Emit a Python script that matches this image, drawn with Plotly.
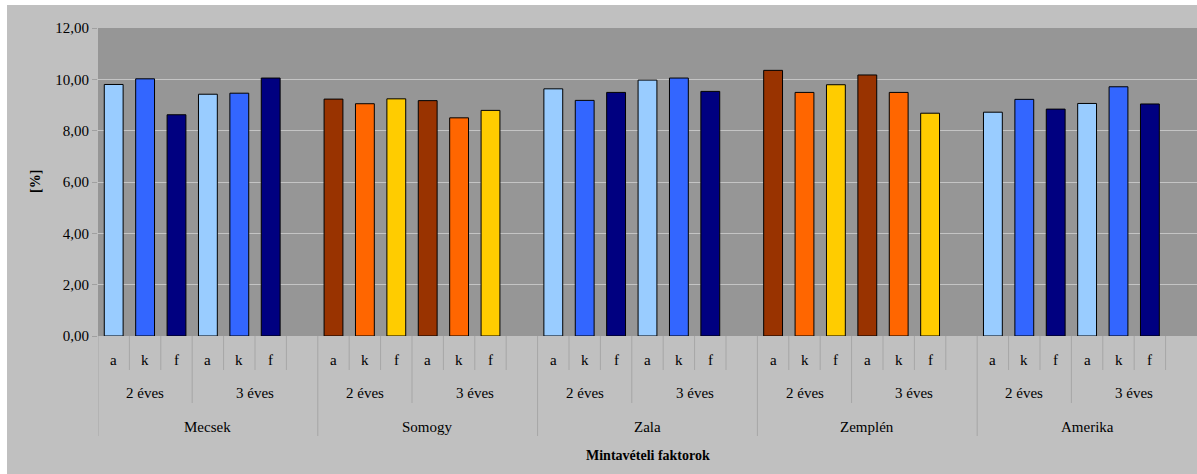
import plotly.graph_objects as go

# ---- data ----
regions = ["Mecsek", "Somogy", "Zala", "Zemplén", "Amerika"]
ages = ["2 éves", "3 éves"]
parts = ["a", "k", "f"]
mecsek = [9.80, 10.02, 8.62, 9.42, 9.46, 10.05]
somogy = [9.23, 9.05, 9.24, 9.17, 8.50, 8.79]
zala = [9.63, 9.18, 9.49, 9.97, 10.05, 9.53]
zemplen = [10.35, 9.49, 9.79, 10.17, 9.49, 8.68]
amerika = [8.72, 9.22, 8.84, 9.06, 9.71, 9.04]
y_ticks = [0, 2, 4, 6, 8, 10, 12]

values = [mecsek, somogy, zala, zemplen, amerika]

# ---- styles ----
blue_set = ["#99CCFF", "#3366FF", "#000080"]
brown_set = ["#993300", "#FF6600", "#FFCC00"]
region_palette = [blue_set, brown_set, blue_set, brown_set, blue_set]
FONT = "Liberation Serif"
SLOTS_PER_REGION = 7
W, H = 1197, 474
ML, MR, MT, MB = 98, 0, 28, 138
PH = H - MT - MB

xs, ys, cols = [], [], []
for r, vals in enumerate(values):
    for i, v in enumerate(vals):
        xs.append(r * SLOTS_PER_REGION + i + 0.5)
        ys.append(v)
        cols.append(region_palette[r][i % 3])

fig = go.Figure()
fig.add_trace(go.Bar(
    x=xs, y=ys, width=0.6,
    marker=dict(color=cols, line=dict(color="#000000", width=1)),
    showlegend=False, hoverinfo="y",
))

n_slots = SLOTS_PER_REGION * len(regions)
shapes = []
annotations = []
DIV = "#A6A6A6"

def divider(x, length):
    shapes.append(dict(type="line", xref="x", yref="paper", ysizemode="pixel",
                       yanchor=0, x0=x, x1=x, y0=0, y1=-length,
                       line=dict(color=DIV, width=1)))

def label(x, text, shift, size=15, bold=False):
    annotations.append(dict(x=x, y=0, xref="x", yref="paper", yshift=shift,
                            text=f"<b>{text}</b>" if bold else text,
                            showarrow=False, xanchor="center", yanchor="middle",
                            font=dict(family=FONT, size=size, color="#000000")))

for r, reg in enumerate(regions):
    base = r * SLOTS_PER_REGION
    divider(base, 100)
    for a, age in enumerate(ages):
        for p, part in enumerate(parts):
            idx = base + a * 3 + p
            label(idx + 0.5, part, -24)
            if p > 0:
                divider(idx, 34)
        if a == 1:
            divider(base + 3, 67)
    divider(base + 6, 34)
    label(base + 1.5, ages[0], -57)
    label(base + 5, ages[1], -57)
    label(base + 3.5, reg, -91)

# axis titles
annotations.append(dict(x=0.5, y=0, xref="paper", yref="paper", yshift=-119,
                        text="<b>Mintavételi faktorok</b>", showarrow=False,
                        xanchor="center", yanchor="middle",
                        font=dict(family=FONT, size=14, color="#000000")))
annotations.append(dict(x=0, y=0.5, xref="paper", yref="paper", xshift=-63,
                        text="<b>[%]</b>", showarrow=False, textangle=-90,
                        xanchor="center", yanchor="middle",
                        font=dict(family=FONT, size=14, color="#000000")))

# white border strips (top & left)
PW = W - ML - MR
shapes.append(dict(type="rect", xref="paper", yref="paper",
                   x0=-ML / PW - 0.01, x1=1.01, y0=1 + (MT - 5) / PH, y1=1 + MT / PH + 0.01,
                   fillcolor="#FFFFFF", line=dict(width=0), layer="above"))
shapes.append(dict(type="rect", xref="paper", yref="paper",
                   x0=-ML / PW - 0.01, x1=(7 - ML) / PW, y0=-MB / PH - 0.01, y1=1 + MT / PH + 0.01,
                   fillcolor="#FFFFFF", line=dict(width=0), layer="above"))

fig.update_layout(
    width=W, height=H,
    margin=dict(l=ML, r=MR, t=MT, b=MB, pad=0),
    paper_bgcolor="#C0C0C0",
    plot_bgcolor="#969696",
    separators=", ",
    bargap=0.4,
    shapes=shapes,
    annotations=annotations,
    xaxis=dict(range=[0, n_slots], showticklabels=False, showgrid=False,
               zeroline=False, ticks="", fixedrange=True),
    yaxis=dict(range=[0, 12], tickvals=y_ticks, tickformat=".2f",
               showgrid=True, gridcolor="#C4C4C4", gridwidth=1,
               zeroline=False, ticks="outside", ticklen=5, tickcolor="#A0A0A0",
               tickfont=dict(family=FONT, size=15, color="#000000"),
               showline=False, fixedrange=True),
    font=dict(family=FONT),
)

fig.write_html("out.html",
               config={"displayModeBar": False},
               post_script="document.body.style.margin='0';document.body.style.overflow='hidden';")
